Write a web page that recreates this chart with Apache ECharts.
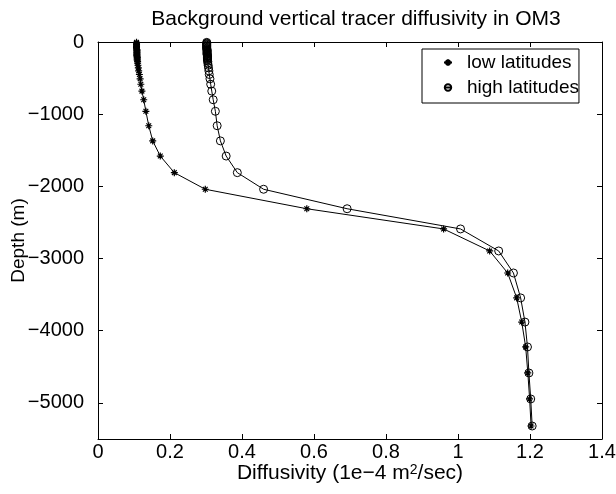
<!DOCTYPE html>
<html>
<head>
<meta charset="utf-8">
<script src="https://cdn.jsdelivr.net/npm/echarts@6/dist/echarts.min.js"></script>
<style>
html,body{margin:0;padding:0;background:#fff;}
#chart{width:616px;height:494px;}
</style>
</head>
<body>
<div id="chart"></div>
<script>
// Depth of each model level (m, negative downwards)
const depths = [-5,-15,-25,-35,-45,-55,-65,-75,-85,-95,-105,-115,-125,-135,-145,-155,-165,-175,-185,-195,-205,-215,-225,
  -236,-250,-268,-292,-322,-358,-400,-450,-510,-585,-680,-800,-960,-1160,-1370,-1580,-1810,-2040,-2310,-2590,-2895,-3200,-3545,-3880,-4225,-4585,-4945,-5320];
// Diffusivity, low latitudes (1e-4 m^2/s)
const lowLat = [0.107,0.107,0.107,0.107,0.107,0.107,0.107,0.107,0.107,0.107,0.108,0.108,0.108,0.108,0.108,0.108,0.108,0.108,0.108,0.108,0.109,0.109,0.109,
  0.109,0.109,0.110,0.110,0.111,0.112,0.113,0.115,0.117,0.119,0.122,0.127,0.133,0.141,0.152,0.173,0.212,0.298,0.580,0.960,1.088,1.138,1.163,1.177,1.188,1.194,1.199,1.203];
// Diffusivity, high latitudes (1e-4 m^2/s)
const highLat = [0.302,0.302,0.302,0.302,0.302,0.302,0.302,0.302,0.302,0.302,0.303,0.303,0.303,0.303,0.303,0.303,0.303,0.303,0.304,0.304,0.304,0.304,0.304,
  0.304,0.304,0.305,0.305,0.306,0.307,0.308,0.309,0.311,0.313,0.316,0.320,0.326,0.331,0.340,0.356,0.387,0.460,0.692,1.007,1.113,1.154,1.174,1.186,1.193,1.197,1.202,1.206];
const xTicks = [0,0.2,0.4,0.6,0.8,1.0,1.2,1.4];
const seriesNames = ['low latitudes','high latitudes'];

const FONT = 'Liberation Sans, Arial, Helvetica, sans-serif';
const FS = 20;
const star = 'path://M5,0L5,10M0,5L10,5M1.6,1.6L8.4,8.4M1.6,8.4L8.4,1.6';

const chart = echarts.init(document.getElementById('chart'), null, {renderer:'canvas'});
const axisCommon = {
  axisLine:{show:true,onZero:false,lineStyle:{color:'#000',width:1}},
  axisTick:{show:true,inside:true,length:5,lineStyle:{color:'#000',width:1}},
  splitLine:{show:false}
};
chart.setOption({
  animation:false,
  backgroundColor:'#fff',
  textStyle:{fontFamily:FONT},
  title:{
    text:'Background vertical tracer diffusivity in OM3',
    left:351, top:4, textAlign:'center',
    textStyle:{fontFamily:FONT,fontSize:21,fontWeight:'normal',color:'#000'}
  },
  grid:{left:98,right:14,top:42,bottom:55,containLabel:false,outerBoundsMode:'none'},
  legend:{
    data:seriesNames,
    orient:'vertical',
    left:422, top:49,
    backgroundColor:'#fff',
    borderColor:'#000', borderWidth:1, borderRadius:0,
    padding:[3,0,5,21],
    itemWidth:8, itemHeight:8, itemGap:4,
    textStyle:{fontFamily:FONT,fontSize:19,color:'#000',lineHeight:21,padding:[0,0,0,10]}
  },
  xAxis:[
    Object.assign({type:'value',position:'bottom',min:0,max:1.4,interval:0.2,
      name:'Diffusivity (1e\u22124 m{sup|2}/sec)',nameLocation:'middle',nameGap:24,nameMoveOverlap:false,
      nameTextStyle:{fontFamily:FONT,fontSize:21,color:'#000',
        rich:{sup:{fontFamily:FONT,fontSize:14,color:'#000',verticalAlign:'top',lineHeight:14}}},
      axisLabel:{fontFamily:FONT,fontSize:FS,color:'#000',margin:3,
        formatter:v=>{const t=xTicks.find(k=>Math.abs(k-v)<1e-9);return t===undefined?'':String(+t.toFixed(1));}}
    },axisCommon),
    Object.assign({type:'value',position:'top',min:0,max:1.4,interval:0.2,axisLabel:{show:false}},axisCommon)
  ],
  yAxis:[
    Object.assign({type:'value',position:'left',min:-5500,max:0,
      name:'Depth (m)',nameLocation:'middle',nameGap:70,nameRotate:90,nameMoveOverlap:false,
      nameTextStyle:{fontFamily:FONT,fontSize:19,color:'#000'},
      axisLabel:{fontFamily:FONT,fontSize:FS,color:'#000',margin:14,
        formatter:v=>{if(v===0)return '0';if(v%1000!==0)return '';return '\u2212'+Math.abs(v);}}
    },axisCommon),
    Object.assign({type:'value',position:'right',min:-5500,max:0,axisLabel:{show:false}},axisCommon)
  ],
  series:[
    {name:seriesNames[0],type:'line',xAxisIndex:0,yAxisIndex:0,
      data:depths.map((d,i)=>[lowLat[i],d]),
      symbol:star,symbolSize:7,showAllSymbol:true,
      itemStyle:{color:'#000',borderColor:'#000',borderWidth:1.2},
      lineStyle:{color:'#000',width:1},z:3},
    {name:seriesNames[1],type:'line',xAxisIndex:0,yAxisIndex:0,
      data:depths.map((d,i)=>[highLat[i],d]),
      symbol:'circle',symbolSize:8,showAllSymbol:true,
      itemStyle:{color:'rgba(0,0,0,0)',borderColor:'#000',borderWidth:1},
      lineStyle:{color:'#000',width:1},z:3}
  ]
});
</script>
</body>
</html>
